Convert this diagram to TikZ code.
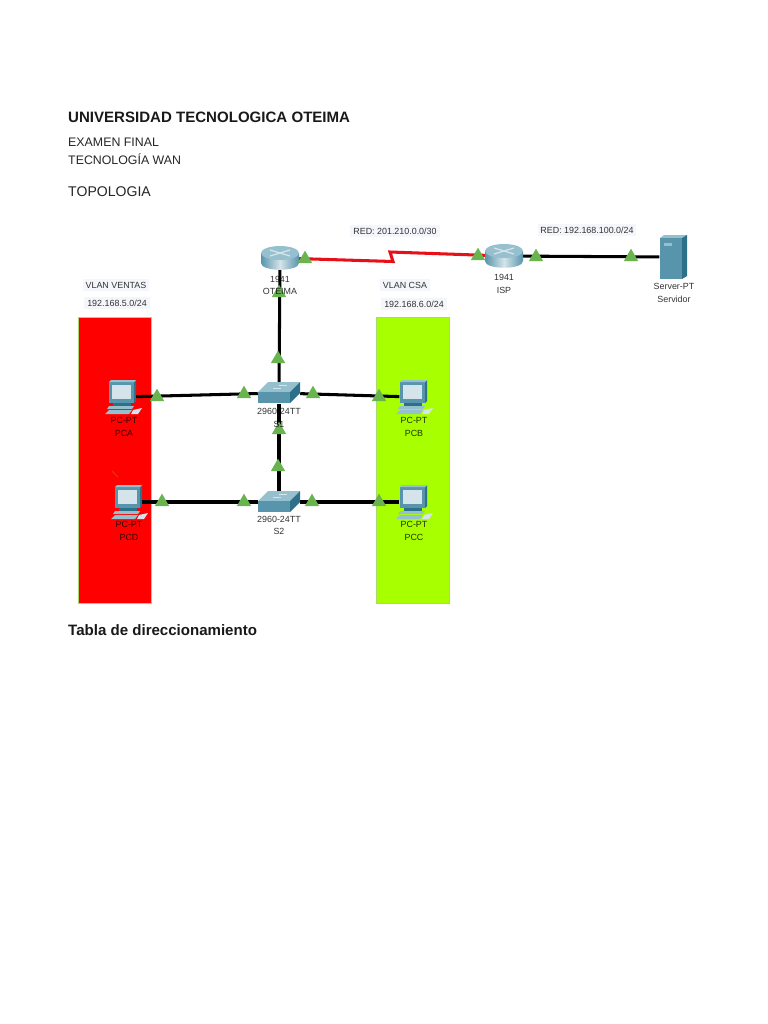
\documentclass[tikz,border=0pt]{standalone}
\usepackage{fontspec}
\setmainfont{Liberation Sans}
\usetikzlibrary{shapes.geometric}
\definecolor{vlanred}{RGB}{255,0,0}
\definecolor{vlangreen}{RGB}{168,255,0}
\definecolor{vlanedge}{RGB}{170,215,110}
\definecolor{portgreen}{RGB}{106,180,80}
\definecolor{labelbg}{RGB}{244,246,251}
\definecolor{devdark}{RGB}{44,112,138}
\definecolor{devmid}{RGB}{88,148,172}
\definecolor{devlight}{RGB}{150,192,206}
\definecolor{screencol}{RGB}{212,228,234}
\definecolor{serialred}{RGB}{232,16,24}

\begin{document}
\begin{tikzpicture}[
  x=0.03cm, y=-0.03cm,
  %% Node styles
  routernode/.style={minimum width=1.14cm, minimum height=0.7cm, inner sep=0pt},
  switchnode/.style={minimum width=1.26cm, minimum height=0.62cm, inner sep=0pt},
  pcnode/.style={minimum width=0.8cm, minimum height=0.6cm, inner sep=0pt},
  servernode/.style={minimum width=0.8cm, minimum height=1.3cm, inner sep=0pt},
  port/.style={
    regular polygon, regular polygon sides=3, fill=portgreen,
    minimum size=0.5cm, inner sep=0pt,
  },
  %% Edge styles
  wire/.style={draw=black, line width=2.6pt},
  serial/.style={draw=serialred, line width=2.6pt, line join=miter},
  %% Text styles
  heading/.style={anchor=base west, inner sep=0pt, font=\fontsize{12.85}{15}\selectfont\bfseries, text=black!90},
  plain/.style={anchor=base west, inner sep=0pt, font=\fontsize{10.55}{13}\selectfont, text=black!85},
  netlabel/.style={fill=labelbg, inner sep=2.5pt, font=\fontsize{7.6}{10}\selectfont, text=black!80},
  devlabel/.style={align=center, inner sep=0pt, font=\fontsize{7.6}{10.5}\selectfont, text=black, text opacity=0.8},
  %% Device icons
  pics/routericon/.style={code={
    \path[left color=devmid, right color=devmid, middle color=screencol]
      (-19,-5) -- (-19,5) .. controls (-19,14) and (19,14) .. (19,5)
      -- (19,-5) -- cycle;
    \fill[devlight] (0,-5) ellipse[x radius=19, y radius=7];
    \draw[screencol, line width=1.1pt] (-10,-8) -- (10,-2) (-10,-2) -- (10,-8);
  }},
  pics/switchicon/.style={code={
    \fill[devlight] (-21,-1) -- (-11,-11) -- (21,-11) -- (11,-1) -- cycle;
    \fill[devmid] (-21,-1) rectangle (11,10);
    \fill[devdark] (11,-1) -- (21,-11) -- (21,0) -- (11,10) -- cycle;
    \draw[screencol, line width=0.5pt] (-6,-5) -- (2,-5) (0,-8) -- (8,-8);
  }},
  pics/pcicon/.style={code={
    \fill[devmid] (-13,-15) rectangle (12,6);
    \fill[devdark] (12,-15) -- (14,-17) -- (14,4) -- (12,6) -- cycle;
    \fill[devlight] (-11,-17) -- (14,-17) -- (12,-15) -- (-13,-15) -- cycle;
    \fill[screencol] (-10,-12) rectangle (9,2);
    \fill[devdark] (-9,6) rectangle (9,9);
    \fill[devlight] (-13,9) -- (12,9) -- (10,12) -- (-15,12) -- cycle;
    \fill[devlight] (-17,17) -- (-13,13) -- (10,13) -- (7,17) -- cycle;
    \fill[screencol] (11,13) -- (20,11) -- (16,17) -- (9,17) -- cycle;
  }},
  pics/servericon/.style={code={
    \fill[devlight] (-13,-19) -- (-9,-22) -- (14,-22) -- (9,-19) -- cycle;
    \fill[devmid] (-13,-19) rectangle (9,22);
    \fill[devdark] (9,-19) -- (14,-22) -- (14,19) -- (9,22) -- cycle;
    \fill[devlight] (-9,-14) rectangle (-1,-11);
  }},
]

%% =============================================================
%%  Page and text lines
%% =============================================================
\useasboundingbox[fill=white] (0,0) rectangle (768,1024);

\node[heading] (title) at (68,122) {UNIVERSIDAD TECNOLOGICA OTEIMA};
\node[plain] (exam) at (68,146) {EXAMEN FINAL};
\node[plain] (wan) at (68,164) {TECNOLOGÍA WAN};
\node[plain, font=\fontsize{12}{14}\selectfont] (topo) at (68,196) {TOPOLOGIA};
\node[heading] (tabla) at (68,635) {Tabla de direccionamiento};

%% =============================================================
%%  VLAN bands
%% =============================================================
\draw[vlanedge, line width=0.5pt, fill=vlanred] (78,317) rectangle (151,603);
\draw[vlanedge, line width=0.5pt, fill=vlangreen] (376,317) rectangle (449,603);
\draw[orange!70!black, line width=0.7pt] (112,471) -- (118,477);

%% =============================================================
%%  Devices
%% =============================================================
\node[routernode] (oteima) at (280,258) {};
\node[routernode] (isp) at (504,256) {};
\node[servernode] (server) at (673,257) {};
\node[switchnode] (s1) at (279,393) {};
\node[switchnode] (s2) at (279,502) {};
\node[pcnode] (pca) at (122,397) {};
\node[pcnode] (pcb) at (413,397) {};
\node[pcnode] (pcd) at (128,502) {};
\node[pcnode] (pcc) at (413,502) {};

%% Links
\coordinate (zig1) at (393,261.5);
\coordinate (zig2) at (390,252);
\draw[serial] (oteima.center) -- (zig1) -- (zig2) -- (isp.center);
\draw[wire] (isp) -- (server);
\draw[wire] (oteima) -- (s1);
\draw[wire] (s1) -- (s2);
\draw[wire] (pca) -- (s1);
\draw[wire] (s1) -- (pcb);
\draw[wire] (pcd) -- (s2);
\draw[wire] (s2) -- (pcc);

%% Icons
\pic at (oteima) {routericon};
\pic at (isp) {routericon};
\pic at (server) {servericon};
\pic at (s1) {switchicon};
\pic at (s2) {switchicon};
\pic at (pca) {pcicon};
\pic at (pcb) {pcicon};
\pic at (pcd) {pcicon};
\pic at (pcc) {pcicon};

%% Port markers
\foreach \px/\py [count=\i] in {305/259, 279/293, 278/359, 157/397, 244/394, 313/394,
    379/397, 279/430, 478/256, 536/257, 631/257, 278/467, 162/502, 244/502, 312/502, 379/502}
  \node[port] (p\i) at (\px,\py) {};

%% =============================================================
%%  Labels
%% =============================================================
\node[netlabel] (redwan) at (395,231) {RED: 201.210.0.0/30};
\node[netlabel] (redlan) at (587,230) {RED: 192.168.100.0/24};
\node[netlabel] (ventas) at (116,285) {VLAN VENTAS};
\node[netlabel] (ventasnet) at (117,303) {192.168.5.0/24};
\node[netlabel] (csa) at (405,285) {VLAN CSA};
\node[netlabel] (csanet) at (414,304) {192.168.6.0/24};

\node[devlabel] (loteima) at (280,285.5) {1941\\OTEIMA};
\node[devlabel] (lisp) at (504,284) {1941\\ISP};
\node[devlabel] (lserver) at (674,293) {Server-PT\\Servidor};
\node[devlabel] (ls1) at (279,418) {2960-24TT\\S1};
\node[devlabel] (ls2) at (279,525.5) {2960-24TT\\S2};
\node[devlabel] (lpca) at (124,427) {PC-PT\\PCA};
\node[devlabel] (lpcb) at (414,427) {PC-PT\\PCB};
\node[devlabel] (lpcd) at (129,531) {PC-PT\\PCD};
\node[devlabel] (lpcc) at (414,531) {PC-PT\\PCC};

\end{tikzpicture}
\end{document}
